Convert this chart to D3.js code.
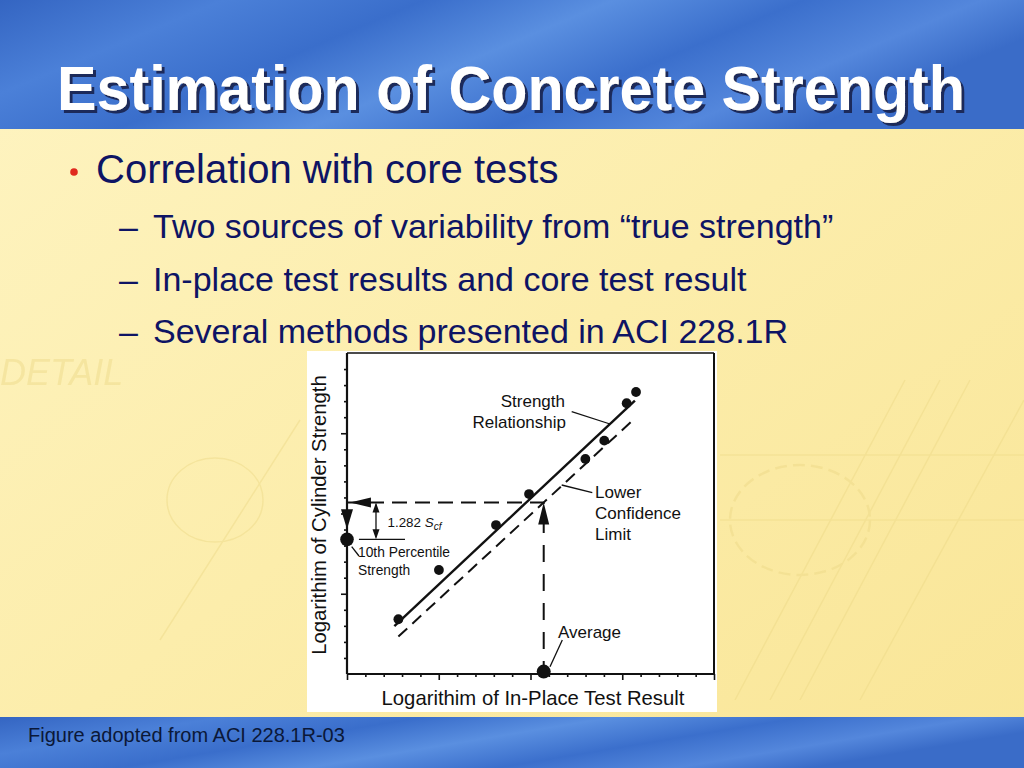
<!DOCTYPE html>
<meta charset="utf-8">
<style>
body { margin: 0; }
svg { display: block; font-family: "Liberation Sans", Arial, sans-serif; }
.frame line { stroke: #111; }
.tick line { stroke: #111; stroke-width: 1.6px; }
.note { font-size: 17px; fill: #111; }
.lead { stroke: #111; stroke-width: 1.3px; }
</style>
<svg width="1024" height="768"></svg>
<script src="https://d3js.org/d3.v7.min.js"></script>
<script>

// values (log units, arbitrary scale 0..20)
var xTicks = d3.range(0, 21),
    yTicks = d3.range(1, 20),
    pointsX = [2.80, 5.01, 8.12, 9.92, 12.99, 14.02, 15.24, 15.75],
    pointsY = [3.41, 6.48, 9.28, 11.21, 13.40, 14.54, 16.87, 17.57],
    strengthLine = [[2.58, 2.99], [15.69, 17.03]],
    lowerLimit = [[2.80, 2.33], [15.69, 15.93]],
    averageX = 10.72,
    percentileY = 8.39;

var bullets = ["Correlation with core tests"],
    subBullets = [
      "Two sources of variability from \u201ctrue strength\u201d",
      "In-place test results and core test result",
      "Several methods presented in ACI 228.1R"
    ];

var svg = d3.select("svg");

// ---- slide background
var defs = svg.append("defs");
var blue = defs.append("linearGradient").attr("id", "blue")
    .attr("x1", 0).attr("x2", 1).attr("y1", 0).attr("y2", 0.3);
[["0", "#3465c2"], ["0.2", "#4b80d8"], ["0.38", "#3a6ecb"], ["0.55", "#5a8fe0"],
 ["0.72", "#3b6fcc"], ["0.88", "#5487dc"], ["1", "#3a6cc8"]].forEach(function(s) {
  blue.append("stop").attr("offset", s[0]).attr("stop-color", s[1]);
});
var yellow = defs.append("linearGradient").attr("id", "yellow")
    .attr("x1", 0).attr("x2", 1).attr("y1", 0).attr("y2", 1);
[["0", "#fef4c2"], ["0.5", "#fcedab"], ["1", "#f9e596"]].forEach(function(s) {
  yellow.append("stop").attr("offset", s[0]).attr("stop-color", s[1]);
});
var shadow = defs.append("filter").attr("id", "shadow")
    .attr("x", -0.05).attr("y", -0.2).attr("width", 1.1).attr("height", 1.4);
shadow.append("feDropShadow").attr("dx", 3).attr("dy", 3).attr("stdDeviation", 0.6)
    .attr("flood-color", "#1b2a5a").attr("flood-opacity", 1);

svg.append("rect").attr("width", 1024).attr("height", 768).attr("fill", "url(#yellow)");

// faint drafting sketch in the background
var sketch = svg.append("g").attr("fill", "none").attr("stroke", "#ecd886")
    .attr("stroke-width", 1.5).attr("opacity", 0.45);
[[735, 700, 905, 380], [770, 700, 940, 380], [800, 700, 970, 380], [860, 700, 1024, 400],
 [720, 455, 1024, 455], [720, 520, 1024, 520], [160, 640, 300, 420]].forEach(function(l) {
  sketch.append("line").attr("x1", l[0]).attr("y1", l[1]).attr("x2", l[2]).attr("y2", l[3]);
});
sketch.append("ellipse").attr("cx", 800).attr("cy", 520).attr("rx", 70).attr("ry", 55)
    .attr("stroke-dasharray", "12,6").attr("stroke-width", 2.5);
sketch.append("ellipse").attr("cx", 215).attr("cy", 500).attr("rx", 48).attr("ry", 42);
sketch.append("text").attr("x", 0).attr("y", 385).attr("fill", "#ecd886").attr("stroke", "none")
    .style("font-size", "36px").style("font-style", "italic").text("DETAIL");

svg.append("rect").attr("width", 1024).attr("height", 129).attr("fill", "url(#blue)");
svg.append("rect").attr("y", 717).attr("width", 1024).attr("height", 51).attr("fill", "url(#blue)");

// ---- title
svg.append("text")
    .attr("x", 57).attr("y", 110)
    .attr("textLength", 908).attr("lengthAdjust", "spacingAndGlyphs")
    .attr("filter", "url(#shadow)")
    .style("font-size", "63px").style("font-weight", "bold")
    .attr("fill", "#fff").text("Estimation of Concrete Strength");

// ---- bullets
svg.append("circle").attr("cx", 74).attr("cy", 172).attr("r", 3.8).attr("fill", "#e02a1e");
svg.selectAll(".b1").data(bullets).enter().append("text")
    .attr("x", 96).attr("y", 183).attr("fill", "#0e1464")
    .style("font-size", "40px").text(function(d) { return d; });
var sub = svg.selectAll(".b2").data(subBullets).enter().append("g")
    .attr("transform", function(d, i) { return "translate(0," + (238 + i * 52.5) + ")"; });
sub.append("text").attr("x", 119).attr("fill", "#0e1464").style("font-size", "34px").text("\u2013");
sub.append("text").attr("x", 153).attr("fill", "#0e1464").style("font-size", "34px")
    .text(function(d) { return d; });

svg.append("text").attr("x", 28).attr("y", 742).attr("fill", "#0b1838")
    .style("font-size", "20px").text("Figure adopted from ACI 228.1R-03");

// ---- chart
svg.append("rect").attr("x", 307).attr("y", 351).attr("width", 410).attr("height", 361)
    .attr("fill", "#fff");

var x = d3.scaleLinear().domain([0, 20]).range([347, 714]),
    y = d3.scaleLinear().domain([0, 20]).range([674, 353]);

var chart = svg.append("g");

chart.append("g")
    .attr("class", "tick")
    .attr("transform", "translate(0," + y(0) + ")")
    .call(d3.axisBottom(x).tickValues(xTicks).tickFormat("")
      .tickSize(3).tickSizeOuter(0))
    .call(function(g) {
      g.select(".domain").remove();
      g.selectAll(".tick line").attr("y2", function(d) { return d % 5 === 0 ? 6 : 3; });
    });

chart.append("g")
    .attr("class", "tick")
    .attr("transform", "translate(" + x(0) + ",0)")
    .call(d3.axisLeft(y).tickValues(yTicks).tickFormat("")
      .tickSize(3).tickSizeOuter(0))
    .call(function(g) {
      g.select(".domain").remove();
      g.selectAll(".tick line").attr("x2", function(d) { return d % 5 === 0 ? -6 : -3; });
    });

var frame = chart.append("g").attr("class", "frame");
frame.append("line").attr("x1", x(0)).attr("x2", x(0)).attr("y1", y(20)).attr("y2", y(0)).attr("stroke-width", 2.2);
frame.append("line").attr("x1", x(0)).attr("x2", x(20)).attr("y1", y(0)).attr("y2", y(0)).attr("stroke-width", 2.2);
frame.append("line").attr("x1", x(0)).attr("x2", x(20)).attr("y1", y(20)).attr("y2", y(20)).attr("stroke-width", 1.4);
frame.append("line").attr("x1", x(20)).attr("x2", x(20)).attr("y1", y(20)).attr("y2", y(0)).attr("stroke-width", 2);

var line = d3.line().x(function(d) { return x(d[0]); }).y(function(d) { return y(d[1]); });

chart.append("path").attr("d", line(strengthLine))
    .attr("fill", "none").attr("stroke", "#111").attr("stroke-width", 2.4);
chart.append("path").attr("d", line(lowerLimit))
    .attr("fill", "none").attr("stroke", "#111").attr("stroke-width", 2)
    .attr("stroke-dasharray", "12,7");

// level of the lower limit above the average reading
var t = (averageX - lowerLimit[0][0]) / (lowerLimit[1][0] - lowerLimit[0][0]),
    limitY = lowerLimit[0][1] + t * (lowerLimit[1][1] - lowerLimit[0][1]);

chart.append("path").attr("d", line([[0, limitY], [averageX, limitY]]))
    .attr("fill", "none").attr("stroke", "#111").attr("stroke-width", 2)
    .attr("stroke-dasharray", "15,8").attr("stroke-dashoffset", -22);
chart.append("path").attr("d", line([[averageX, 0], [averageX, limitY]]))
    .attr("fill", "none").attr("stroke", "#111").attr("stroke-width", 2)
    .attr("stroke-dasharray", "17,12").attr("stroke-dashoffset", 4);

function tri(px, py, dir, len, half) {
  // filled arrow head, tip at (px, py)
  var p;
  if (dir === "left") p = [[px, py], [px + len, py - half], [px + len, py + half]];
  if (dir === "up") p = [[px, py], [px - half, py + len], [px + half, py + len]];
  if (dir === "down") p = [[px, py], [px - half, py - len], [px + half, py - len]];
  return "M" + p.join("L") + "Z";
}

chart.append("path").attr("d", tri(x(0.16), y(limitY), "left", 21, 5)).attr("fill", "#111");
chart.append("path").attr("d", tri(x(averageX), y(limitY), "up", 22, 5.5)).attr("fill", "#111");
chart.append("path").attr("d", tri(x(0), y(percentileY) - 10, "down", 20, 6)).attr("fill", "#111");

// 1.282 S_cf offset marker
var ax = x(1.58);
chart.append("line").attr("class", "lead").attr("x1", ax).attr("x2", ax)
    .attr("y1", y(limitY) + 2).attr("y2", y(percentileY) - 2);
chart.append("path").attr("d", tri(ax, y(limitY), "up", 10, 3.5)).attr("fill", "#111");
chart.append("path").attr("d", tri(ax, y(percentileY), "down", 10, 3.5)).attr("fill", "#111");
chart.append("line").attr("class", "lead")
    .attr("x1", x(0.65)).attr("x2", x(3.16)).attr("y1", y(percentileY)).attr("y2", y(percentileY));

// data points
chart.selectAll(".pt").data(pointsX).enter().append("circle")
    .attr("cx", function(d) { return x(d); })
    .attr("cy", function(d, i) { return y(pointsY[i]); })
    .attr("r", 4.9).attr("fill", "#111");
chart.append("circle").attr("cx", x(0)).attr("cy", y(percentileY)).attr("r", 6.8).attr("fill", "#111");
chart.append("circle").attr("cx", x(averageX)).attr("cy", y(0.15)).attr("r", 7).attr("fill", "#111");

// annotations
function lead(x1, y1, x2, y2) {
  chart.append("line").attr("class", "lead").attr("x1", x1).attr("y1", y1).attr("x2", x2).attr("y2", y2);
}
lead(571.7, 411.7, 610, 424);
lead(561.7, 485, 592.3, 492.7);
lead(351.7, 546.7, 359, 556);
lead(562.3, 640, 550, 666.7);

chart.append("text").attr("class", "note").attr("x", 565).attr("y", 407)
    .attr("text-anchor", "end").text("Strength");
chart.append("text").attr("class", "note").attr("x", 566).attr("y", 428)
    .attr("text-anchor", "end").text("Relationship");
["Lower", "Confidence", "Limit"].forEach(function(s, i) {
  chart.append("text").attr("class", "note").attr("x", 595).attr("y", 498 + i * 20.8).text(s);
});
chart.append("text").attr("class", "note").attr("x", 558).attr("y", 638).text("Average");
chart.append("text").attr("class", "note").style("font-size", "13.8px")
    .attr("x", 358).attr("y", 557).text("10th Percentile");
chart.append("text").attr("class", "note").style("font-size", "13.8px")
    .attr("x", 358).attr("y", 575).text("Strength");

var sc = chart.append("text").attr("class", "note").style("font-size", "13.4px")
    .attr("x", 387.5).attr("y", 526.5);
sc.append("tspan").text("1.282 ");
sc.append("tspan").style("font-style", "italic").text("S");
sc.append("tspan").style("font-style", "italic").style("font-size", "10px")
    .attr("dy", 3).text("cf");

chart.append("text").attr("class", "note").style("font-size", "20.3px")
    .attr("x", 533).attr("y", 705).attr("text-anchor", "middle")
    .text("Logarithim of In-Place Test Result");
chart.append("text").attr("class", "note").style("font-size", "20.3px")
    .attr("transform", "translate(326,515) rotate(-90)").attr("text-anchor", "middle")
    .text("Logarithim of Cylinder Strength");

</script>
